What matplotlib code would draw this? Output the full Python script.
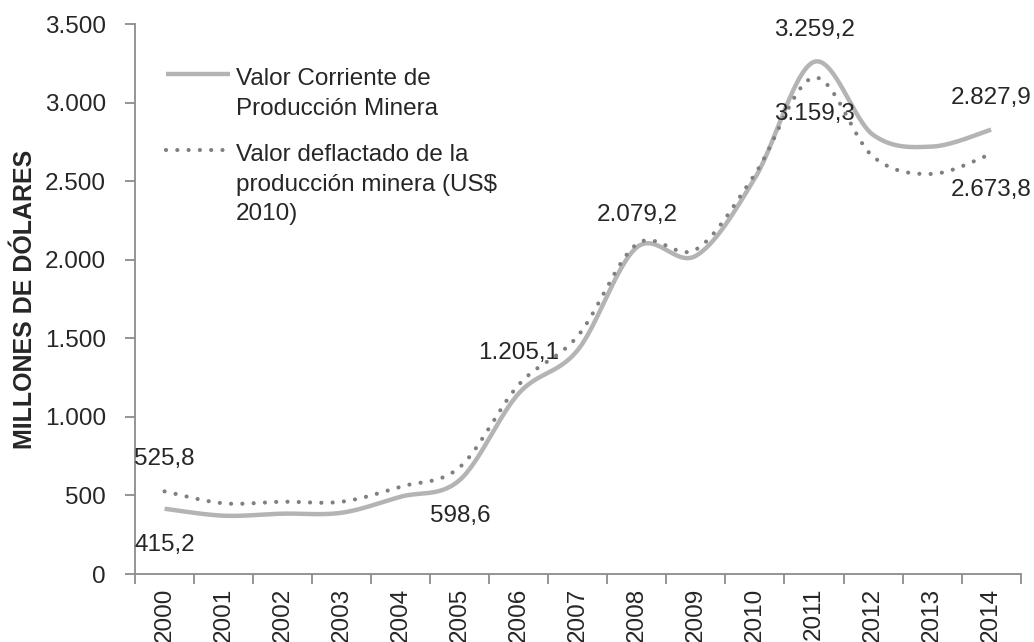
import numpy as np
import matplotlib
matplotlib.use("Agg")
import matplotlib.pyplot as plt
from matplotlib.lines import Line2D
from matplotlib.ticker import FuncFormatter, FixedLocator

plt.rcParams['font.family'] = ['Liberation Sans', 'DejaVu Sans']

# datos (millones de dolares)
years = [str(y) for y in range(2000, 2015)]
corriente = [415.2, 371, 384, 390, 492, 598.6, 1150, 1426, 2079.2, 2025,
             2520, 3259.2, 2795, 2720, 2827.9]
deflactado = [525.8, 450, 460, 460, 556, 680, 1205.1, 1515, 2100, 2065,
              2545, 3159.3, 2656, 2546, 2673.8]
yticks = [0, 500, 1000, 1500, 2000, 2500, 3000, 3500]

# etiquetas de datos: indice -> 'above' / 'below'
lab_corriente = {0: 'below', 5: 'below', 8: 'above', 11: 'above', 14: 'above'}
lab_deflactado = {0: 'above', 6: 'above', 11: 'below', 14: 'below'}

nombre_corriente = 'Valor Corriente de\nProducción Minera'
nombre_deflactado = 'Valor deflactado de la\nproducción minera (US\\$\n2010)'


def es_num(v, dec=0):
    s = f"{v:,.{dec}f}"
    return s.replace(',', 'X').replace('.', ',').replace('X', '.')


def smooth(yv, n=30):
    # curva suavizada tipo Excel (bezier por Catmull-Rom)
    p = np.column_stack([np.arange(len(yv)), np.asarray(yv, float)])
    xs, ys = [], []
    t = np.linspace(0, 1, n)[:, None]
    for i in range(len(p) - 1):
        p0 = p[i - 1] if i > 0 else p[i]
        p3 = p[i + 2] if i + 2 < len(p) else p[i + 1]
        c1 = p[i] + (p[i + 1] - p0) / 6
        c2 = p[i + 1] - (p3 - p[i]) / 6
        b = ((1 - t) ** 3) * p[i] + 3 * ((1 - t) ** 2) * t * c1 \
            + 3 * (1 - t) * t ** 2 * c2 + t ** 3 * p[i + 1]
        xs.extend(b[:, 0]); ys.extend(b[:, 1])
    return np.array(xs), np.array(ys)


W, H = 1034, 642
fig = plt.figure(figsize=(W / 100, H / 100), dpi=100)
ax = fig.add_axes([0.1306, 0.1059, 0.8565, 0.8567])

axis_col = '#8c8c8c'
txt_col = '#262626'
fs = 17.5
c_sol = '#b4b4b6'
c_dot = '#808080'
dot_style = (0, (0.01, 2.7))

x1, y1 = smooth(corriente)
x2, y2 = smooth(deflactado)
ax.plot(x1, y1, color=c_sol, lw=3.2, solid_capstyle='butt')
ax.plot(x2, y2, color=c_dot, lw=3.0, linestyle=dot_style,
        dash_capstyle='round')

for series, labs in ((corriente, lab_corriente), (deflactado, lab_deflactado)):
    for i, pos in labs.items():
        off = 23 if pos == 'above' else -26
        ax.annotate(es_num(series[i], 1), (i, series[i]), xytext=(0, off),
                    textcoords='offset points', ha='center', va='center',
                    fontsize=fs, color=txt_col)

ax.set_xlim(-0.5, len(years) - 0.5)
ax.set_ylim(0, 3500)
ax.set_yticks(yticks)
ax.yaxis.set_major_formatter(FuncFormatter(lambda v, p: es_num(v)))

ax.xaxis.set_major_locator(FixedLocator(np.arange(-0.5, len(years), 1.0)))
ax.xaxis.set_major_formatter(FuncFormatter(lambda v, p: ''))
ax.xaxis.set_minor_locator(FixedLocator(np.arange(len(years))))
ax.set_xticklabels(years, minor=True, rotation=90)
ax.tick_params(axis='x', which='minor', length=0, pad=10,
               labelsize=fs, labelcolor=txt_col)
ax.tick_params(axis='x', which='major', length=7, width=1.3, color=axis_col,
               direction='out')
ax.tick_params(axis='y', length=7, width=1.3, color=axis_col, pad=14,
               labelsize=fs, labelcolor=txt_col)

for s in ('top', 'right'):
    ax.spines[s].set_visible(False)
for s in ('left', 'bottom'):
    ax.spines[s].set_color(axis_col)
    ax.spines[s].set_linewidth(1.3)

fig.text(25 / W, 1 - 299 / H, 'MILLONES DE DÓLARES', rotation=90,
         ha='center', va='center', fontsize=18, fontweight='bold',
         color=txt_col)

# leyenda (muestra alineada con la primera linea del texto, como en Excel)
for y_px, col, kw, txt in ((74, c_sol, dict(lw=3.2, solid_capstyle='butt'),
                            nombre_corriente),
                           (150, c_dot, dict(lw=3.0, linestyle=dot_style,
                                             dash_capstyle='round'),
                            nombre_deflactado)):
    fig.add_artist(Line2D([166 / W, 230 / W], [1 - y_px / H] * 2,
                          transform=fig.transFigure, color=col, **kw))
    fig.text(236 / W, 1 - (y_px - 6) / H, txt, ha='left', va='top',
             fontsize=fs, color=txt_col, linespacing=1.45,
             transform=fig.transFigure)

fig.savefig('out.png', dpi=100)
